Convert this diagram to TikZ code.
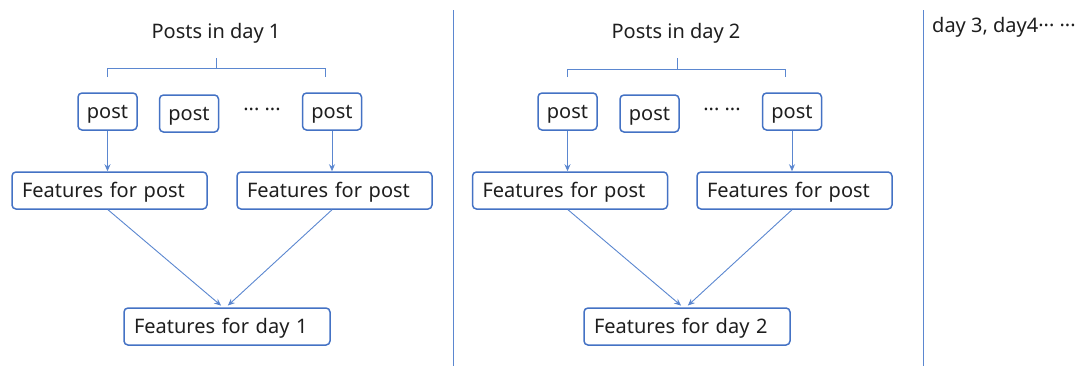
\documentclass[tikz,border=0pt]{standalone}
\usepackage{fontspec}
\setmainfont{Noto Sans}
\usetikzlibrary{arrows.meta}
\definecolor{boxblue}{HTML}{4472C4}
\definecolor{linkblue}{HTML}{5B87D0}
\definecolor{txt}{HTML}{1E1E1E}
\begin{document}
\begin{tikzpicture}[x=1pt,y=-1pt,
  font=\fontsize{20}{24}\selectfont, text=txt,
  box/.style={draw=boxblue, line width=1.5pt, rounded corners=4pt,
    minimum height=37pt, inner sep=0pt, text height=18pt, text depth=4pt},
  postbox/.style={box, minimum width=59pt},
  featbox/.style={box, text width=175pt, inner xsep=10pt, align=left},
  daybox/.style={box, text width=186pt, inner xsep=10pt, align=left},
  lbl/.style={inner sep=0pt},
  arr/.style={draw=linkblue, line width=0.9pt, -{Stealth[length=7pt,width=6pt]}},
  brace/.style={draw=linkblue, line width=0.9pt},
  divider/.style={draw=linkblue, line width=0.9pt}]
\useasboundingbox (0,0) rectangle (1084,367);

% ---------- day 1 ----------
\node[lbl] (t1) at (216,33) {Posts in day 1};
\coordinate (br1l) at (107,77);
\coordinate (br1r) at (325,77);
\coordinate (br1m) at (216,68);
\coordinate (br1t) at (216,58);
\draw[brace] (br1l) -- (br1l |- br1m) -- (br1r |- br1m) -- (br1r);
\draw[brace] (br1m) -- (br1t);

\node[postbox] (a1) at (107.5,111.5) {post};
\node[postbox] (a2) at (189,113.5) {post};
\node[lbl] (ad) at (262,112) {··· ···};
\node[postbox] (a3) at (332,111.5) {post};

\node[featbox] (f1) at (109.5,190.5) {Features for post};
\node[featbox] (f2) at (334.5,190.5) {Features for post};

\node[daybox] (d1) at (227,326.5) {Features for day 1};

\draw[arr] (a1.south) -- (a1.south |- f1.north);
\draw[arr] (a3.south) -- (a3.south |- f2.north);
\draw[arr, shorten >=2.5pt] ([xshift=-1.5pt]f1.south) -- ([xshift=-4pt]d1.north);
\draw[arr, shorten >=2.5pt] ([xshift=-2.5pt]f2.south) -- ([xshift=-1pt]d1.north);

\coordinate (v1t) at (453,10);
\coordinate (v1b) at (453,366);
\draw[divider] (v1t) -- (v1b);

% ---------- day 2 ----------
\node[lbl] (t2) at (676,33) {Posts in day 2};
\coordinate (br2l) at (567,77);
\coordinate (br2r) at (785,77);
\coordinate (br2m) at (677,69);
\coordinate (br2t) at (677,58);
\draw[brace] (br2l) -- (br2l |- br2m) -- (br2r |- br2m) -- (br2r);
\draw[brace] (br2m) -- (br2t);

\node[postbox] (b1) at (567.5,111.5) {post};
\node[postbox] (b2) at (649.5,113.5) {post};
\node[lbl] (bd) at (722,112) {··· ···};
\node[postbox] (b3) at (792,111.5) {post};

\node[featbox] (g1) at (570,190.5) {Features for post};
\node[featbox] (g2) at (794.5,190.5) {Features for post};

\node[daybox] (d2) at (687,326.5) {Features for day 2};

\draw[arr] (b1.south) -- (b1.south |- g1.north);
\draw[arr] (b3.south) -- (b3.south |- g2.north);
\draw[arr, shorten >=2.5pt] ([xshift=-2pt]g1.south) -- ([xshift=-4pt]d2.north);
\draw[arr, shorten >=2.5pt] ([xshift=-2.5pt]g2.south) -- ([xshift=-1pt]d2.north);

\coordinate (v2t) at (923,10);
\coordinate (v2b) at (923,366);
\draw[divider] (v2t) -- (v2b);

% ---------- more days ----------
\node[lbl, anchor=west] (t3) at (932,27) {day 3, day4··· ···};
\end{tikzpicture}
\end{document}
